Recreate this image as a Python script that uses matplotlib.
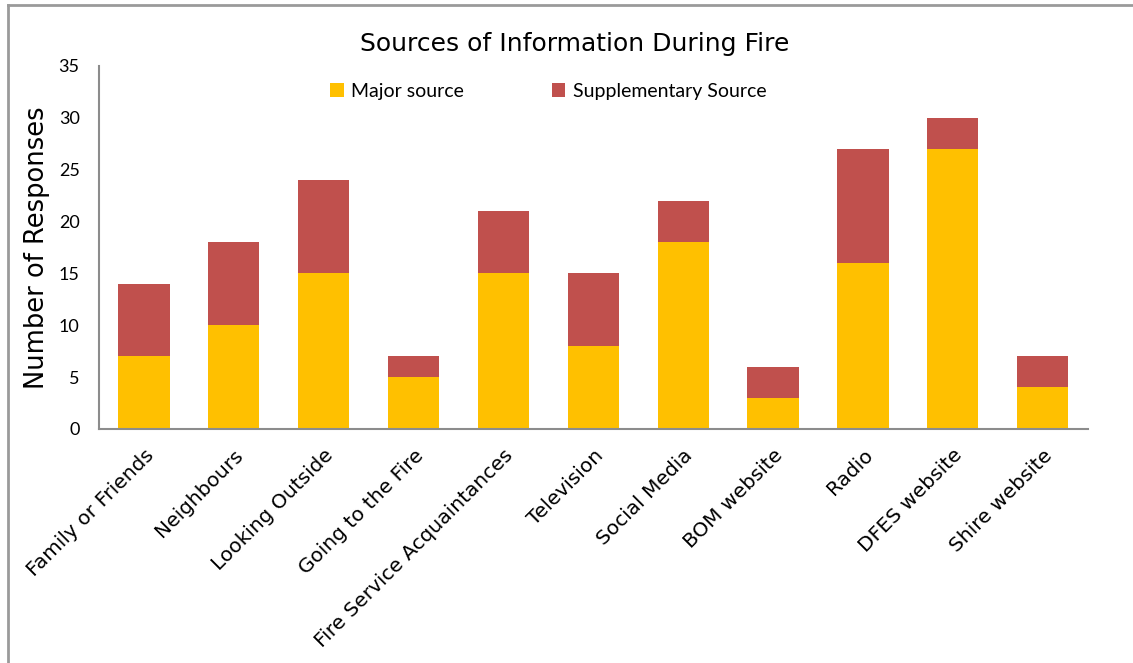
import numpy as np
from matplotlib import pyplot as plt
from matplotlib.lines import Line2D

# data
sources = ["Family or Friends", "Neighbours", "Looking Outside", "Going to the Fire",
           "Fire Service Acquaintances", "Television", "Social Media", "BOM website",
           "Radio", "DFES website", "Shire website"]
major = [7, 10, 15, 5, 15, 8, 18, 3, 16, 27, 4]
supplementary = [7, 8, 9, 2, 6, 7, 4, 3, 11, 3, 3]
y_ticks = [0, 5, 10, 15, 20, 25, 30, 35]

plt.rcParams['font.family'] = ['Lato', 'DejaVu Sans']

fig = plt.figure(figsize=(11.33, 6.63), dpi=100)
ax = fig.add_axes([0.0874, 0.353, 0.8726, 0.5475])

x = np.arange(len(sources))
ax.bar(x, major, width=0.57, color='#FFC000', label='Major source')
ax.bar(x, supplementary, width=0.57, bottom=major, color='#C0504D', label='Supplementary Source')

ax.set_xlim(-0.5, len(sources) - 0.5)
ax.set_ylim(0, 35)
ax.set_yticks(y_ticks)
ax.set_yticklabels([str(t) for t in y_ticks], fontsize=13)
ax.set_xticks(x)
ax.set_xticklabels(sources, rotation=45, ha='right', rotation_mode='anchor',
                   fontsize=14.5, family='DejaVu Sans')
ax.tick_params(axis='both', length=0)
ax.tick_params(axis='x', pad=12)
ax.tick_params(axis='y', pad=14)

for side in ['top', 'right']:
    ax.spines[side].set_visible(False)
for side in ['left', 'bottom']:
    ax.spines[side].set_color('#8c8c8c')
    ax.spines[side].set_linewidth(1.5)

ax.set_ylabel('Number of Responses', fontsize=18.5, family='DejaVu Sans', labelpad=6)
fig.text(0.507, 0.933, 'Sources of Information During Fire', ha='center', va='center',
         fontsize=18, family='DejaVu Sans')

ax.legend(loc='center', bbox_to_anchor=(0.484, 0.862), bbox_transform=fig.transFigure,
          ncol=2, frameon=False, fontsize=14, handlelength=0.7, handleheight=0.7,
          handletextpad=0.4, columnspacing=4.5)

# chart area border (left and top edges visible)
fig.add_artist(Line2D([8 / 1133, 8 / 1133], [0, 1 - 5 / 663], color='#9a9a9a', lw=2))
fig.add_artist(Line2D([8 / 1133, 1], [1 - 5 / 663, 1 - 5 / 663], color='#9a9a9a', lw=2))

fig.savefig('out.png', dpi=100)
